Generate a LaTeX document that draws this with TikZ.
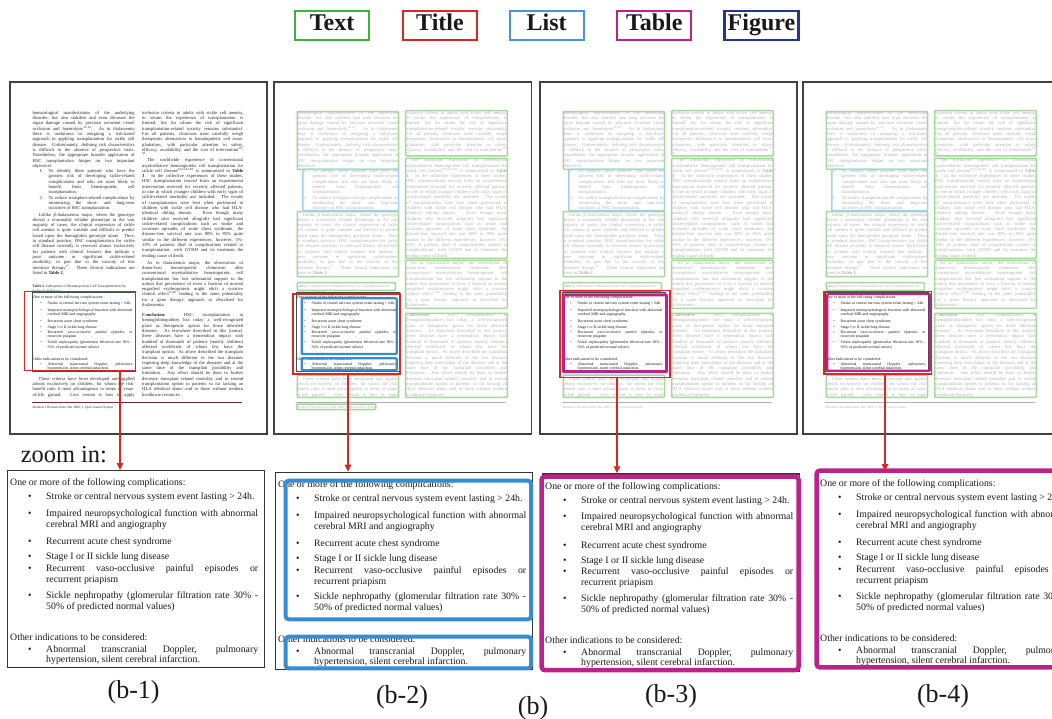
\documentclass[tikz,border=0pt]{standalone}
\usepackage{fontspec}
\setmainfont{Liberation Serif}
\usetikzlibrary{arrows.meta}

\definecolor{cgreen}{RGB}{60,180,60}
\definecolor{cred}{RGB}{215,40,40}
\definecolor{cblue}{RGB}{70,150,215}
\definecolor{cmag}{RGB}{188,34,140}
\definecolor{cnavy}{RGB}{35,55,145}
\definecolor{lgreen}{RGB}{165,215,155}
\definecolor{dgreen}{RGB}{60,165,60}
\definecolor{lblue}{RGB}{160,210,240}
\definecolor{zblue}{RGB}{55,140,210}
\definecolor{footred}{RGB}{125,40,45}
\colorlet{pagetext}{black!85}
\colorlet{tabtext}{black!90}
\colorlet{rulecol}{footred}

\newcommand\jl[1]{\makebox[\linewidth][s]{#1}\par}
\newcommand\el[1]{\mbox{#1}\par}
\newcommand\sps[1]{\textsuperscript{#1}}
\newcommand\pf{\fontsize{4.6}{5.3}\selectfont}
\newcommand\zf{\fontsize{9.8}{11}\selectfont}

\newcommand\ztable{%
\node[zt] (hd) at (3,15.7) {One or more of the following complications:};
\node[zt] (d1) at (21,29.7) {•};
\node[zt] (t1) at (39,29.7) {Stroke or central nervous system event lasting > 24h.};
\node[zt] (d2) at (21,46.3) {•};
\node[zt] (t2) at (39,46.3) {\parbox[t]{212pt}{\zf\jl{Impaired neuropsychological function with abnormal}\el{cerebral MRI and angiography}}};
\node[zt] (d3) at (21,74.7) {•};
\node[zt] (t3) at (39,74.7) {Recurrent acute chest syndrome};
\node[zt] (d4) at (21,89.7) {•};
\node[zt] (t4) at (39,89.7) {Stage I or II sickle lung disease};
\node[zt] (d5) at (21,101.3) {•};
\node[zt] (t5) at (39,101.3) {\parbox[t]{212pt}{\zf\jl{Recurrent vaso-occlusive painful episodes or}\el{recurrent priapism}}};
\node[zt] (d6) at (21,128) {•};
\node[zt] (t6) at (39,128) {\parbox[t]{212pt}{\zf\jl{Sickle nephropathy (glomerular filtration rate 30\% -}\el{50\% of predicted normal values)}}};
\node[zt] (hd2) at (3,170.3) {Other indications to be considered:};
\node[zt] (d7) at (21,182.3) {•};
\node[zt] (t7) at (39,182.3) {\parbox[t]{212pt}{\fontsize{9.8}{10.2}\selectfont\jl{Abnormal transcranial Doppler, pulmonary}\el{hypertension, silent cerebral infarction.}}};
}

\newcommand\pagebody{%
\node[ptx] (l1) at (22.5,114.4) {\parbox[t]{102pt}{\pf
\jl{hematological manifestations of the underlying}
\jl{disorder, but also stabilize and even decrease the}
\jl{organ damage caused by previous recurrent vessel}
\jl{occlusion and haemolysis\sps{31-34}. As in thalassemia}
\jl{there is usefulness in assigning a risk-based}
\jl{approach to applying transplantation for sickle cell}
\jl{disease. Unfortunately, defining risk characteristics}
\jl{is difficult in the absence of prospective trials.}
\jl{Nonetheless, the appropriate broader application of}
\jl{HSC transplantation hinges on two important}
\el{objectives.}}};
\node[ptx] (n1) at (29.5,172.6) {\pf 1.};
\node[ptx] (li1) at (38.5,172.6) {\parbox[t]{86pt}{\pf
\jl{To identify these patients who have the}
\jl{greatest risk of developing sickle-related}
\jl{complications and who are most likely to}
\jl{benefit from hematopoietic cell}
\el{transplantation.}}};
\node[ptx] (n2) at (29.5,199.1) {\pf 2.};
\node[ptx] (li2) at (38.5,199.1) {\parbox[t]{86pt}{\pf
\jl{To reduce transplant-related complications by}
\jl{minimizing the short- and long-term}
\el{toxicities of HSC transplantation.}}};
\node[ptx] (l2) at (22.5,216.1) {\parbox[t]{102pt}{\pf
\jl{\hspace*{6pt}Unlike β-thalassemia major, where the genotype}
\jl{directs a reasonably reliable phenotype in the vast}
\jl{majority of cases, the clinical expression of sickle}
\jl{cell anemia is quite variable and difficult to predict}
\jl{based upon the hemoglobin genotype alone. Thus,}
\jl{in standard practice, HSC transplantation for sickle}
\jl{cell disease currently is reserved almost exclusively}
\jl{for patients with clinical features that indicate a}
\jl{poor outcome or significant sickle-related}
\jl{morbidity, in part due to the toxicity of this}
\jl{intensive therapy\sps{37}. These clinical indications are}
\el{listed in \textbf{Table 2}.}}};
\node[ptx] (cap) at (22.5,287.8) {\parbox[t]{102pt}{\fontsize{3.7}{4.3}\selectfont
\el{\textbf{Table 2.} Indications of Hematopoietic Cell Transplantation for}
\el{Sickle Cell Disease}}};
\node[ptx] (l3) at (22.5,380.2) {\parbox[t]{102pt}{\pf
\jl{\hspace*{6pt}These criteria have been developed and applied}
\jl{almost exclusively on children, for whom the risk-}
\jl{benefit ratio is most advantageous in terms of years-}
\jl{of-life gained. Less certain is how to apply}}};
\draw[draw=rulecol, line width=1.2pt] (22.3,402.7) -- (231.7,402.7);
\node[ptx] (foot) at (22.5,408.2) {\fontsize{3.3}{4}\selectfont Mediterr J Hematol Infect Dis 2009; 1; Open Journal System};
\node[ptx] (r1) at (132,114.4) {\parbox[t]{101pt}{\pf
\jl{inclusion criteria to adults with sickle cell anemia,}
\jl{in whom the experience of transplantation is}
\jl{limited, but for whom the risk of significant}
\jl{transplantation-related toxicity remains substantial.}
\jl{For all patients, clinicians must carefully weigh}
\jl{therapeutic alternatives to hematopoietic cell trans-}
\jl{plantation, with particular attention to safety,}
\jl{efficacy, availability, and the cost of intervention\sps{32-}}
\el{\sps{42}.}}};
\node[ptx] (r2) at (132,161.8) {\parbox[t]{101pt}{\pf
\jl{\hspace*{5pt}The worldwide experience of conventional}
\jl{myeloablative hematopoietic cell transplantation for}
\jl{sickle cell disease\sps{24,33,43-48} is summarized in \textbf{Table}}
\jl{\textbf{3}. In the collective experiences of these studies,}
\jl{HSC transplantation moved from an experimental}
\jl{intervention reserved for severely affected patients,}
\jl{to one in which younger children with early signs of}
\jl{sickle-related morbidity are included. The results}
\jl{of transplantation were best when performed in}
\jl{children with sickle cell disease who had HLA-}
\jl{identical sibling donors. Even though many}
\jl{children who received allografts had significant}
\jl{sickle-related complications such as stroke and}
\jl{recurrent episodes of acute chest syndrome, the}
\jl{disease-free survival rate was 80\% to 85\% quite}
\jl{similar in the different experiences; however, 5\%-}
\jl{10\% of patients died of complications related to}
\jl{transplantation, with GVHD and its treatment the}
\el{leading cause of death.}}};
\node[ptx] (r3) at (132,264.1) {\parbox[t]{101pt}{\pf
\jl{\hspace*{5pt}As in thalassemia major, the observation of}
\jl{donor-host hematopoietic chimerism after}
\jl{conventional myeloablative hematopoietic cell}
\jl{transplantation has lost substantial support to the}
\jl{notion that persistence of even a fraction of normal}
\jl{engrafted erythropoiesis might elicit a curative}
\jl{clinical effect\sps{31,49} leading to the same potentiality}
\jl{for a gene therapy approach as described for}
\el{thalassemia.}}};
\node[ptx] (r4) at (132,316.6) {\parbox[t]{101pt}{\pf
\jl{\textbf{Conclusion:} HSC transplantation in}
\jl{hemoglobinopathies has today a well-recognized}
\jl{place as therapeutic option for those inherited}
\jl{diseases. As elsewhere described in this journal,}
\jl{these diseases have a tremendous impact with}
\jl{hundred of thousands of patients (mostly children)}
\jl{affected worldwide of whom few have the}
\jl{transplant option. As above described the transplant}
\jl{decision is much different in the two diseases}
\jl{requiring deep knowledge of the diseases and at the}
\jl{same time of the transplant possibility and}
\jl{limitation. Any effort should be done to further}
\jl{decrease transplant related mortality and to extend}
\jl{transplantation option to patients so far lacking an}
\jl{HLA identical donor and to those without modern}
\el{healthcare resources.}}};
}

\newcommand\greenset{%
\draw[gbox] (23.3,111.7) rectangle (124.6,169.3);
\draw[lbbox] (28.8,169.3) rectangle (124.6,210.7);
\draw[gbox] (23.3,211.7) rectangle (124.6,276.7);
\draw[gbox] (23.3,282.7) rectangle (121.3,290.5);
\draw[gbox] (23.3,375) rectangle (124.6,397.3);
\draw[gbox] (131.7,110.7) rectangle (233.3,156);
\draw[gbox] (131.7,158.5) rectangle (233.3,258.5);
\draw[gbox] (131.7,260.5) rectangle (233.3,308.3);
\draw[gbox] (131.7,313.3) rectangle (233.3,397.3);
}

\begin{document}
\begin{tikzpicture}[x=1pt,y=-1pt,
 ptx/.style={inner sep=0pt, anchor=base west, text=pagetext},
 zt/.style={inner sep=0pt, anchor=base west, text=tabtext, font=\zf},
 legbox/.style={draw, line width=2.2pt, minimum width=74pt, minimum height=29.3pt, inner sep=0pt, font=\fontsize{24}{26}\selectfont\bfseries, text=black!90, text height=16pt, text depth=5pt},
 pageframe/.style={draw=black!75, line width=1.1pt, fill=white},
 gbox/.style={draw=lgreen, line width=1.5pt, rounded corners=0.8pt},
 lbbox/.style={draw=lblue, line width=1.5pt, rounded corners=0.8pt},
 tblue/.style={draw=zblue, line width=2.2pt, rounded corners=1pt},
 redbox/.style={draw=cred, line width=1.3pt, inner sep=0pt, anchor=north west},
 rarr/.style={draw=cred, line width=1.3pt, -{Triangle[length=7pt,width=6.5pt]}},
 zbox/.style={draw=black!80, line width=1.3pt, inner sep=0pt, anchor=north west, minimum width=257pt, minimum height=197pt},
 zblue/.style={draw=zblue, line width=4pt, rounded corners=3pt},
 zmag/.style={draw=cmag, line width=4.5pt, rounded corners=3pt},
 lab/.style={font=\fontsize{26}{28}\selectfont, inner sep=0pt, text=black!90},
 mini/.style={draw=black!70, line width=0.5pt}]
\useasboundingbox (0,0) rectangle (1052,719);
\clip (0,0) rectangle (1052,719);
\fill[white] (0,0) rectangle (1052,719);

% legend
\node[legbox, draw=cgreen] (lgText) at (332,25.3) {Text};
\node[legbox, draw=cred] (lgTitle) at (440,25.3) {Title};
\node[legbox, draw=cblue] (lgList) at (546.7,25.3) {List};
\node[legbox, draw=cmag] (lgTable) at (654.3,25.3) {Table};
\node[legbox, draw=cnavy] (lgFigure) at (761.5,25.3) {Figure};

% page frames
\draw[pageframe] (10,82) rectangle (267,434);
\draw[pageframe] (274,82) rectangle (531.5,434);
\draw[pageframe] (540,82) rectangle (797,434);
\draw[pageframe] (803,82) rectangle (1060,434);

% page 1
\colorlet{pagetext}{black!85}\colorlet{rulecol}{footred}
\begin{scope}[shift={(10,0)}, name prefix=p1-] \pagebody \end{scope}
% pages 2-4 (faded)
\colorlet{pagetext}{black!30}\colorlet{rulecol}{black!30}
\begin{scope}[shift={(274,0)}, name prefix=p2-] \pagebody \end{scope}
\begin{scope}[shift={(540,0)}, name prefix=p3-] \pagebody \end{scope}
\begin{scope}[shift={(803,0)}, name prefix=p4-] \pagebody \end{scope}

% mini tables
\begin{scope}[shift={(32,292.5)}, scale=0.4, transform shape, name prefix=m1-] \ztable \end{scope}
\begin{scope}[shift={(296,292.5)}, scale=0.4, transform shape, name prefix=m2-] \ztable \end{scope}
\begin{scope}[shift={(562,292.5)}, scale=0.4, transform shape, name prefix=m3-] \ztable \end{scope}
\begin{scope}[shift={(825,292.5)}, scale=0.4, transform shape, name prefix=m4-] \ztable \end{scope}
\draw[mini] (32,292.5) rectangle ++(102.8,78.8);
\draw[mini] (296,292.5) rectangle ++(102.8,78.8);
\draw[mini] (562,292.5) rectangle ++(102.8,78.8);
\draw[mini] (825,292.5) rectangle ++(102.8,78.8);

% overlays page 2
\begin{scope}[shift={(274,0)}]
\greenset
\draw[gbox] (22.7,404) rectangle (101.7,409.5);
\draw[tblue] (27.7,298.3) rectangle (122.7,354);
\draw[tblue] (27.7,358.3) rectangle (122.7,370.3);
\end{scope}
% overlays page 3
\begin{scope}[shift={(540,0)}]
\greenset
\draw[dgreen, line width=1.5pt] (23.3,291.3) -- (121.3,291.3);
\draw[cmag, line width=3pt, rounded corners=1pt] (23.3,295) rectangle (126.7,371.7);
\end{scope}
% overlays page 4
\begin{scope}[shift={(803,0)}]
\greenset
\draw[cmag, line width=2.2pt, rounded corners=1pt] (24.3,294) rectangle (127,370.7);
\end{scope}

% red selection boxes
\node[redbox, minimum width=111pt, minimum height=79.3pt] (rb1) at (24,290.7) {};
\node[redbox, minimum width=107pt, minimum height=80pt] (rb2) at (292.3,293.3) {};
\node[redbox, minimum width=110pt, minimum height=86.7pt] (rb3) at (559.3,290) {};
\node[redbox, minimum width=107.4pt, minimum height=82.6pt] (rb4) at (823.3,290.7) {};

% zoom boxes
\node[zbox] (z1) at (7,470) {};
\node[zbox] (z2) at (275,471.7) {};
\node[zbox] (z3) at (542,473.3) {};
\node[zbox, draw=none] (z4) at (817,471) {};
\begin{scope}[shift={(7,470)}, name prefix=zt1-] \ztable \end{scope}
\begin{scope}[shift={(275,471.7)}, name prefix=zt2-] \ztable \end{scope}
\begin{scope}[shift={(542,473.3)}, name prefix=zt3-] \ztable \end{scope}
\begin{scope}[shift={(817,471)}, name prefix=zt4-] \ztable \end{scope}
\draw[zblue] (285.7,480.7) rectangle (531,619.3);
\draw[zblue] (285.7,636.7) rectangle (531,668.3);
\draw[zmag] (541.7,476.7) rectangle (798.5,670);
\draw[zmag] (816.7,470.7) rectangle (1080,667.3);

% arrows
\coordinate (a1) at (120,0);
\coordinate (a2) at (348,0);
\coordinate (a3) at (617,0);
\coordinate (a4) at (885,0);
\draw[rarr] (rb1.south -| a1) -- (z1.north -| a1);
\draw[rarr] (rb2.south -| a2) -- (z2.north -| a2);
\draw[rarr] (rb3.south -| a3) -- (z3.north -| a3);
\draw[rarr] (rb4.south -| a4) -- (z4.north -| a4);

% labels
\node[lab, anchor=base west, font=\fontsize{24.4}{26}\selectfont] (zoomin) at (20.7,462.7) {zoom in:};
\node[lab] (lb1) at (133.6,692.5) {(b-1)};
\node[lab] (lb2) at (402,697) {(b-2)};
\node[lab] (lb3) at (671,696) {(b-3)};
\node[lab] (lb4) at (943,696) {(b-4)};
\node[lab] (lbb) at (533,708) {(b)};
\end{tikzpicture}
\end{document}
